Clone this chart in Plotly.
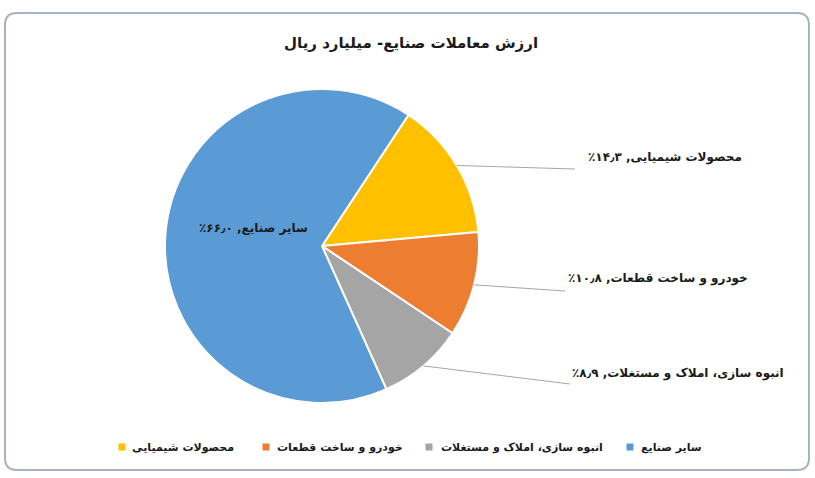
import math
import plotly.graph_objects as go

W, H = 815, 478
RLM = "\u200f"

title_text = "ارزش معاملات صنایع- میلیارد ریال"
categories = ["محصولات شیمیایی", "خودرو و ساخت قطعات", "انبوه سازی، املاک و مستغلات", "سایر صنایع"]
values = [14.3, 10.8, 8.9, 66.0]
value_labels = ["۱۴٫۳٪", "۱۰٫۸٪", "۸٫۹٪", "۶۶٫۰٪"]
colors = ["#FFC000", "#ED7D31", "#A5A5A5", "#5B9BD5"]

# layout constants (pixels)
CX, CY, R = 322, 246, 157
ROTATION = 33.4
label_pos = [(665, 157), (658, 278), (678, 373), (254, 228)]
line_end = [(575, 169), (565, 291), (570, 384), None]
legend_marker_x = [122, 266, 429, 630]
legend_text_x = [130, 275, 439, 639]
LEGEND_Y = 447
FONT = "DejaVu Sans"


def px(x):
    return x / W


def py(y):
    return 1 - y / H


fig = go.Figure(go.Pie(
    labels=categories,
    values=values,
    sort=False,
    direction="clockwise",
    rotation=ROTATION,
    marker=dict(colors=colors, line=dict(color="white", width=2)),
    textinfo="none",
    hoverinfo="label+percent",
    showlegend=False,
    domain=dict(x=[px(CX - R), px(CX + R)], y=[py(CY + R), py(CY - R)]),
))

annotations = [dict(
    text=f"<b>{title_text}</b>", x=px(411), y=py(43), xref="paper", yref="paper",
    showarrow=False, font=dict(size=15, color="#1a1a1a", family=FONT),
    xanchor="center", yanchor="middle",
)]
shapes = []

total = sum(values)
cum = 0.0
for i, v in enumerate(values):
    mid = ROTATION + (cum + v / 2) / total * 360.0
    cum += v
    a = math.radians(mid)
    lx, ly = label_pos[i]
    annotations.append(dict(
        text=f"<b>{RLM}{categories[i]}, {value_labels[i]}{RLM}</b>",
        x=px(lx), y=py(ly), xref="paper", yref="paper", showarrow=False,
        font=dict(size=12, color="#1a1a1a", family=FONT),
        xanchor="center", yanchor="middle",
    ))
    if line_end[i] is not None:
        sx = CX + R * math.sin(a)
        sy = CY - R * math.cos(a)
        ex, ey = line_end[i]
        shapes.append(dict(
            type="line", xref="paper", yref="paper",
            x0=px(sx), y0=py(sy), x1=px(ex), y1=py(ey),
            line=dict(color="#A6A6A6", width=1),
        ))

# custom legend (markers left of text, as in the reference)
for i, name in enumerate(categories):
    mx = legend_marker_x[i]
    shapes.append(dict(
        type="rect", xref="paper", yref="paper",
        x0=px(mx - 3.5), x1=px(mx + 3.5), y0=py(LEGEND_Y + 3.5), y1=py(LEGEND_Y - 3.5),
        fillcolor=colors[i], line=dict(width=0),
    ))
    annotations.append(dict(
        text=f"<b>{name}</b>", x=px(legend_text_x[i]), y=py(LEGEND_Y),
        xref="paper", yref="paper", showarrow=False,
        font=dict(size=11, color="#1a1a1a", family=FONT),
        xanchor="left", yanchor="middle",
    ))

# rounded outer frame
x0, y0, x1, y1, rr = 5, 13, 809, 470, 12
path = (f"M {px(x0 + rr)},{py(y0)} L {px(x1 - rr)},{py(y0)} "
        f"Q {px(x1)},{py(y0)} {px(x1)},{py(y0 + rr)} "
        f"L {px(x1)},{py(y1 - rr)} Q {px(x1)},{py(y1)} {px(x1 - rr)},{py(y1)} "
        f"L {px(x0 + rr)},{py(y1)} Q {px(x0)},{py(y1)} {px(x0)},{py(y1 - rr)} "
        f"L {px(x0)},{py(y0 + rr)} Q {px(x0)},{py(y0)} {px(x0 + rr)},{py(y0)} Z")
shapes.append(dict(type="path", path=path, xref="paper", yref="paper",
                   line=dict(color="#A9B1C6", width=2), layer="below"))

fig.update_layout(
    width=W, height=H,
    margin=dict(l=0, r=0, t=0, b=0),
    paper_bgcolor="white",
    plot_bgcolor="white",
    showlegend=False,
    annotations=annotations,
    shapes=shapes,
)

fig.write_html("out.html", config={"displayModeBar": False},
               post_script="document.body.style.margin='0';")
